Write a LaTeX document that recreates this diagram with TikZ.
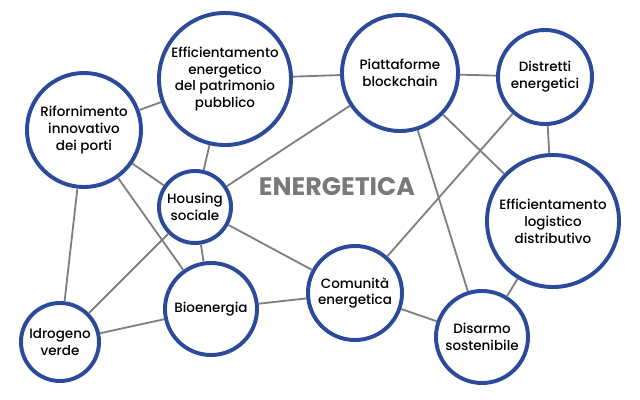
\documentclass[tikz,border=0pt]{standalone}
\usepackage{fontspec}
\setmainfont{Poppins}[UprightFont=* Medium, BoldFont=* Bold]
\definecolor{blu}{HTML}{2B4A9B}
\definecolor{grigio}{HTML}{7F7F7F}
\begin{document}
\begin{tikzpicture}[x=0.025cm,y=-0.025cm]
    \tikzset{
        tema/.style={circle, draw=blu, line width=2.8pt, fill=white, align=center,
            inner sep=0pt, font=\fontsize{9.6}{12}\selectfont},
        link/.style={draw=grigio, line width=1.3pt}
    }
    \useasboundingbox (0,0) rectangle (640,400);

    % Nodi (cerchi)
    \node[tema, minimum size=3.3cm]  (patrimonio) at (225,79)  {Efficientamento\\energetico\\del patrimonio\\pubblico};
    \node[tema, minimum size=2.85cm] (porti)      at (84,130)  {Rifornimento\\innovativo\\dei porti};
    \node[tema, minimum size=2.9cm]  (blockchain) at (400,73)  {Piattaforme\\blockchain};
    \node[tema, minimum size=2.35cm] (distretti)  at (545,77)  {Distretti\\energetici};
    \node[tema, minimum size=3.3cm]  (logistico)  at (553,221) {Efficientamento\\logistico\\distributivo};
    \node[tema, minimum size=1.8cm]  (housing)    at (195,207) {Housing\\sociale};
    \node[tema, minimum size=2.3cm]  (bio)        at (211,309) {Bioenergia};
    \node[tema, minimum size=1.95cm] (idrogeno)   at (60,342)  {Idrogeno\\verde};
    \node[tema, minimum size=2.35cm] (comunita)   at (355,293) {Comunità\\energetica};
    \node[tema, minimum size=2.3cm]  (disarmo)    at (482,337) {Disarmo\\sostenibile};

    % Titolo centrale
    \node[font=\fontsize{18}{20}\selectfont\bfseries, text=grigio!95!black] (titolo) at (337,187) {ENERGETICA};

    % Collegamenti
    \foreach \a/\b in {porti/patrimonio, patrimonio/blockchain, patrimonio/housing,
                       blockchain/distretti, blockchain/housing, blockchain/disarmo,
                       blockchain/logistico, distretti/comunita, distretti/logistico,
                       porti/housing, porti/bio, porti/idrogeno, housing/idrogeno,
                       housing/bio, housing/comunita, idrogeno/bio, bio/comunita,
                       comunita/disarmo, disarmo/logistico} {
        \draw[link] (\a) -- (\b);
    }

\end{tikzpicture}
\end{document}
